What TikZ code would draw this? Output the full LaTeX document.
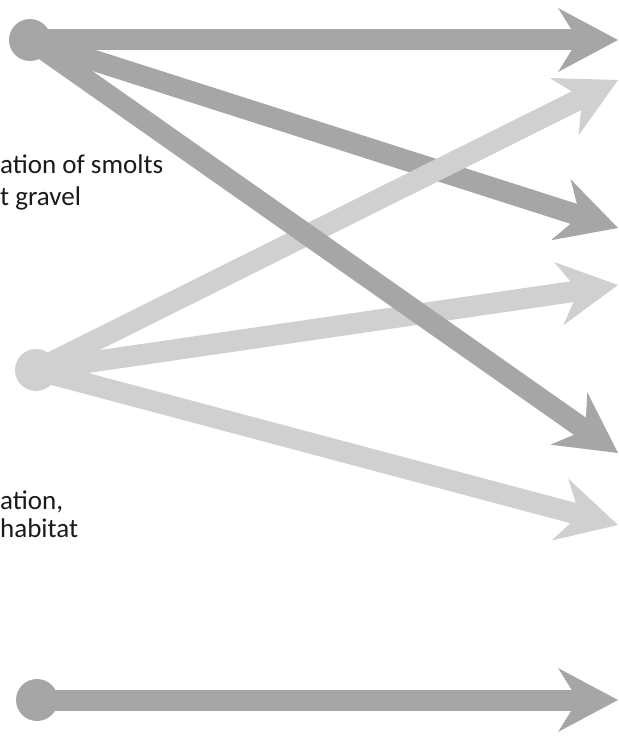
\documentclass[tikz,border=0pt]{standalone}
\usepackage{fontspec}
\setmainfont{Carlito}
\usetikzlibrary{arrows.meta}

\definecolor{darkgr}{HTML}{A6A6A6}
\definecolor{lightgr}{HTML}{D0D0D0}
\definecolor{txt}{HTML}{1A1A1A}

\tikzset{
  dot/.style={circle, fill=#1, inner sep=0pt, minimum size=42pt},
  flow/.style={draw=#1, line width=21pt,
    -{Stealth[length=60pt, width=64pt, inset=20pt, line width=0pt, fill=#1]}},
  lbl/.style={anchor=base west, inner sep=0pt, align=left, text=txt}
}

\begin{document}
\begin{tikzpicture}[x=1pt, y=-1pt]
\useasboundingbox (0,0) rectangle (618,741);

\node[dot=darkgr] (s1) at (30,40) {};
\node[dot=lightgr] (s2) at (36,370) {};
\node[dot=darkgr] (s3) at (37,700) {};

\coordinate (t1) at (618,40);
\coordinate (t2) at (618,228);
\coordinate (t3) at (618,453);
\coordinate (t4) at (618,700);
\coordinate (u1) at (618,80);
\coordinate (u2) at (618,285);
\coordinate (u3) at (618,525);

\draw[flow=darkgr] (s1.center) -- (t1);
\draw[flow=darkgr] (s1.center) -- (t2);
\draw[flow=lightgr] (s2.center) -- (u1);
\draw[flow=lightgr] (s2.center) -- (u2);
\draw[flow=lightgr] (s2.center) -- (u3);
\draw[flow=darkgr] (s1.center) -- (t3);
\draw[flow=darkgr] (s3.center) -- (t4);

% base anchor sits on the last line
\node[lbl, font=\fontsize{27}{32}\selectfont] (l1) at (0,205) {ation of smolts\\t gravel};
\node[lbl, font=\fontsize{27}{28}\selectfont] (l2) at (0,537) {ation,\\habitat};

\end{tikzpicture}
\end{document}
